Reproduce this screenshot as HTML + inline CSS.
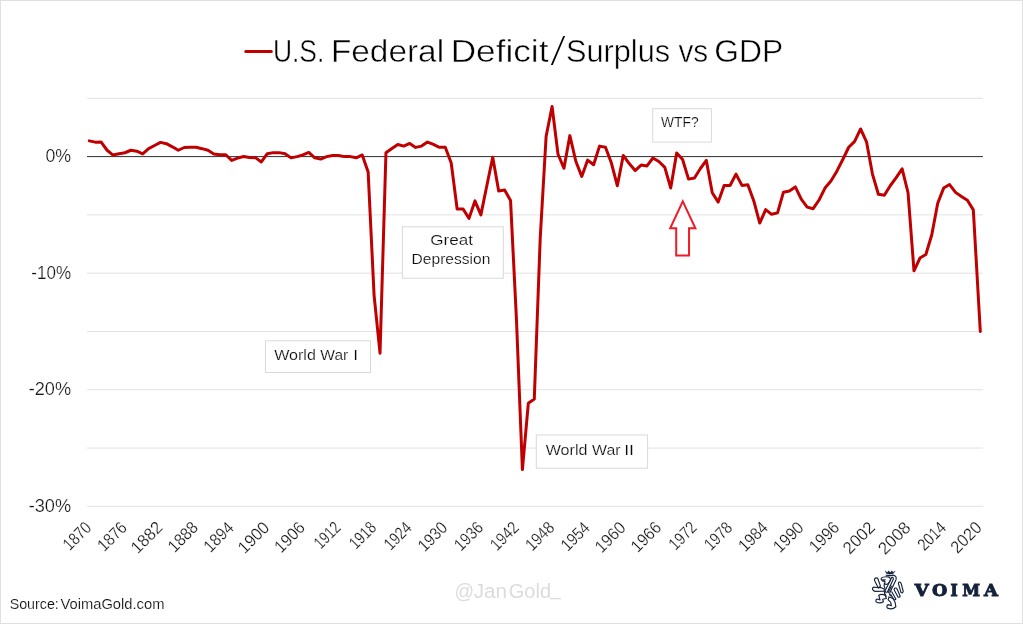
<!DOCTYPE html>
<html lang="en">
<head>
<meta charset="utf-8">
<title>U.S. Federal Deficit/Surplus vs GDP</title>
<style>
html,body{margin:0;padding:0;background:#fff;}
#chart{position:relative;width:1023px;height:624px;box-sizing:border-box;border:1px solid #e0e0e0;background:#fff;overflow:hidden;}
svg{position:absolute;left:-1px;top:-1px;}
text{font-family:"Liberation Sans",sans-serif;fill:#262626;}
.lab{fill:#151515;stroke:#fff;stroke-width:0.26;}
.title{fill:#000;stroke:#fff;stroke-width:0.32;}
.ann{fill:#0d0d0d;stroke:#fff;stroke-width:0.26;}
.src{fill:#0d0d0d;stroke:#fff;stroke-width:0.24;}
.handle{fill:#dcdcdc;}
.brand{font-family:"DejaVu Serif","Liberation Serif",serif;font-weight:bold;fill:#14213a;stroke:#14213a;stroke-width:1.1;}
.box{fill:#fff;stroke:#d9d9d9;stroke-width:1;}
</style>
</head>
<body>
<div id="chart">
<svg width="1023" height="624" viewBox="0 0 1023 624">
<!-- gridlines -->
<line x1="87.0" y1="506.34" x2="982.9" y2="506.34" stroke="#e2e2e2" stroke-width="1"/>
<line x1="87.0" y1="448.05" x2="982.9" y2="448.05" stroke="#e2e2e2" stroke-width="1"/>
<line x1="87.0" y1="389.76" x2="982.9" y2="389.76" stroke="#e2e2e2" stroke-width="1"/>
<line x1="87.0" y1="331.47" x2="982.9" y2="331.47" stroke="#e2e2e2" stroke-width="1"/>
<line x1="87.0" y1="273.18" x2="982.9" y2="273.18" stroke="#e2e2e2" stroke-width="1"/>
<line x1="87.0" y1="214.89" x2="982.9" y2="214.89" stroke="#e2e2e2" stroke-width="1"/>
<line x1="87.0" y1="98.31" x2="982.9" y2="98.31" stroke="#e2e2e2" stroke-width="1"/>
<line x1="87.0" y1="156.60" x2="982.9" y2="156.60" stroke="#2e2e2e" stroke-width="1"/>
<!-- annotation boxes -->
<rect class="box" x="265.5" y="340.8" width="105" height="31.7"/>
<text class="ann" font-size="20" transform="translate(0,360.40) scale(0.7945,0.7055)" ><tspan x="345.13" textLength="52.48" lengthAdjust="spacingAndGlyphs">World</tspan> <tspan x="403.16" textLength="35.15" lengthAdjust="spacingAndGlyphs">War</tspan> <tspan x="444.54" textLength="6.05" lengthAdjust="spacingAndGlyphs">I</tspan></text>
<rect class="box" x="402.4" y="226.8" width="100.9" height="51.4"/>
<text class="ann" font-size="20" transform="translate(0,244.90) scale(0.8557,0.7055)" ><tspan x="502.81" textLength="50.02" lengthAdjust="spacingAndGlyphs">Great</tspan></text>
<text class="ann" font-size="20" transform="translate(0,264.00) scale(0.7790,0.6982)" ><tspan x="528.37" textLength="101.16" lengthAdjust="spacingAndGlyphs">Depression</tspan></text>
<rect class="box" x="536.3" y="435" width="111.3" height="33.2"/>
<text class="ann" font-size="20" transform="translate(0,454.90) scale(0.8062,0.6982)" ><tspan x="676.90" textLength="51.72" lengthAdjust="spacingAndGlyphs">World</tspan> <tspan x="734.45" textLength="35.27" lengthAdjust="spacingAndGlyphs">War</tspan> <tspan x="774.18" textLength="12.30" lengthAdjust="spacingAndGlyphs">II</tspan></text>
<rect class="box" x="652.7" y="108.7" width="58.7" height="33.4"/>
<text class="ann" font-size="20" transform="translate(0,126.95) scale(0.6894,0.7782)" ><tspan x="958.97" textLength="54.44" lengthAdjust="spacingAndGlyphs">WTF?</tspan></text>
<!-- arrow -->
<path d="M682.8 201.4 L695.4 228.2 L689.05 228.2 L689.05 255.6 L676.2 255.6 L676.2 228.2 L670.2 228.2 Z" fill="#fff" stroke="#ee1c25" stroke-width="2" stroke-linejoin="miter"/>
<!-- data line -->
<polyline points="89.30,140.86 95.23,142.14 101.17,142.03 107.10,150.25 113.03,155.08 118.97,153.80 124.90,152.75 130.83,150.25 136.76,151.24 142.70,153.92 148.63,148.67 154.56,145.52 160.50,142.38 166.43,143.66 172.36,146.81 178.30,150.25 184.23,147.51 190.16,147.27 196.09,147.27 202.03,148.67 207.96,150.25 213.89,153.92 219.83,154.73 225.76,154.73 231.69,160.45 237.62,158.12 243.56,156.48 249.49,157.53 255.42,157.65 261.36,161.96 267.29,153.69 273.22,152.64 279.16,152.64 285.09,153.69 291.02,157.88 296.95,156.60 302.89,154.97 308.82,152.40 314.75,157.77 320.69,159.05 326.62,156.60 332.55,155.43 338.49,155.43 344.42,156.60 350.35,156.60 356.29,157.77 362.22,154.97 368.15,172.11 374.08,295.33 380.02,353.15 385.95,152.75 391.88,148.44 397.82,144.48 403.75,146.11 409.68,143.43 415.62,147.39 421.55,146.11 427.48,142.03 433.41,144.48 439.35,147.27 445.28,147.27 451.21,163.01 457.15,209.06 463.08,209.06 469.01,218.39 474.94,200.90 480.88,214.89 486.81,185.75 492.74,157.30 498.68,190.99 504.61,189.94 510.54,200.43 516.48,319.81 522.41,469.62 528.34,403.17 534.27,399.09 540.21,238.21 546.14,136.20 552.07,106.47 558.01,154.27 563.94,168.26 569.87,135.62 575.81,161.26 581.74,176.42 587.67,160.10 593.61,164.76 599.54,146.11 605.47,147.27 611.40,163.01 617.34,185.75 623.27,155.43 629.20,163.59 635.14,170.59 641.07,165.11 647.00,165.93 652.93,158.00 658.87,161.50 664.80,167.33 670.73,188.08 676.67,153.10 682.60,159.51 688.53,179.10 694.47,177.93 700.40,168.49 706.33,160.45 712.26,192.74 718.20,202.07 724.13,185.51 730.06,185.51 736.00,174.09 741.93,185.40 747.86,184.81 753.80,200.90 759.73,223.05 765.66,209.64 771.59,214.31 777.53,212.91 783.46,192.16 789.39,190.99 795.33,186.91 801.26,199.15 807.19,207.08 813.13,208.71 819.06,199.97 824.99,188.08 830.92,181.08 836.86,171.17 842.79,159.51 848.72,147.27 854.66,141.44 860.59,128.97 866.52,141.79 872.46,174.09 878.39,194.26 884.32,195.30 890.25,185.75 896.19,177.58 902.12,168.84 908.05,192.74 913.99,270.85 919.92,258.02 925.85,254.53 931.79,234.71 937.72,203.23 943.65,188.08 949.58,184.58 955.52,192.39 961.45,196.59 967.38,200.32 973.32,209.88 980.30,331.47" fill="none" stroke="#c00000" stroke-width="3" stroke-linejoin="round" stroke-linecap="round"/>
<!-- title with legend key -->
<line x1="245.8" y1="51.6" x2="271.3" y2="51.6" stroke="#c00000" stroke-width="3" stroke-linecap="round"/>
<text class="title" font-size="20" transform="translate(0,61.70) scale(1.6094,1.6000)" ><tspan x="169.59" textLength="31.95" lengthAdjust="spacingAndGlyphs">U.S.</tspan> <tspan x="205.63" textLength="70.29" lengthAdjust="spacingAndGlyphs">Federal</tspan> <tspan x="280.03" textLength="60.77" lengthAdjust="spacingAndGlyphs">Deficit</tspan><tspan x="340.99" dy="2.81" font-size="26.80" stroke-width="1.25" textLength="11.45" lengthAdjust="spacingAndGlyphs">/</tspan><tspan x="351.69" dy="-2.81" textLength="64.67" lengthAdjust="spacingAndGlyphs">Surplus</tspan> <tspan x="421.55" textLength="18.45" lengthAdjust="spacingAndGlyphs">vs</tspan> <tspan x="443.76" textLength="42.84" lengthAdjust="spacingAndGlyphs">GDP</tspan></text>
<!-- axis labels -->
<text class="lab" font-size="20" transform="translate(0,162.00) scale(0.8885,0.9032)" ><tspan x="51.09" textLength="28.91" lengthAdjust="spacingAndGlyphs">0%</tspan></text>
<text class="lab" font-size="20" transform="translate(0,278.58) scale(0.8502,0.9032)" ><tspan x="36.86" textLength="46.69" lengthAdjust="spacingAndGlyphs">-10%</tspan></text>
<text class="lab" font-size="20" transform="translate(0,395.16) scale(0.9079,0.9032)" ><tspan x="31.59" textLength="46.69" lengthAdjust="spacingAndGlyphs">-20%</tspan></text>
<text class="lab" font-size="20" transform="translate(0,511.74) scale(0.9079,0.9032)" ><tspan x="31.59" textLength="46.69" lengthAdjust="spacingAndGlyphs">-30%</tspan></text>
<text class="lab" font-size="20" transform="translate(91.90,529.2) rotate(-45) scale(0.7156,0.8602)" x="-43.70" y="0">1870</text>
<text class="lab" font-size="20" transform="translate(127.52,529.2) rotate(-45) scale(0.7514,0.8602)" x="-43.60" y="0">1876</text>
<text class="lab" font-size="20" transform="translate(163.14,529.2) rotate(-45) scale(0.8226,0.8602)" x="-43.45" y="0">1882</text>
<text class="lab" font-size="20" transform="translate(198.76,529.2) rotate(-45) scale(0.7770,0.8602)" x="-43.60" y="0">1888</text>
<text class="lab" font-size="20" transform="translate(234.38,529.2) rotate(-45) scale(0.7715,0.8602)" x="-43.90" y="0">1894</text>
<text class="lab" font-size="20" transform="translate(270.00,529.2) rotate(-45) scale(0.8177,0.8602)" x="-43.70" y="0">1900</text>
<text class="lab" font-size="20" transform="translate(305.62,529.2) rotate(-45) scale(0.7941,0.8602)" x="-43.60" y="0">1906</text>
<text class="lab" font-size="20" transform="translate(341.24,529.2) rotate(-45) scale(0.6686,0.8602)" x="-43.45" y="0">1912</text>
<text class="lab" font-size="20" transform="translate(376.86,529.2) rotate(-45) scale(0.6747,0.8602)" x="-43.60" y="0">1918</text>
<text class="lab" font-size="20" transform="translate(412.48,529.2) rotate(-45) scale(0.7038,0.8602)" x="-43.90" y="0">1924</text>
<text class="lab" font-size="20" transform="translate(448.10,529.2) rotate(-45) scale(0.7582,0.8602)" x="-43.70" y="0">1930</text>
<text class="lab" font-size="20" transform="translate(483.72,529.2) rotate(-45) scale(0.7344,0.8602)" x="-43.60" y="0">1936</text>
<text class="lab" font-size="20" transform="translate(519.34,529.2) rotate(-45) scale(0.7285,0.8602)" x="-43.45" y="0">1942</text>
<text class="lab" font-size="20" transform="translate(554.96,529.2) rotate(-45) scale(0.7344,0.8602)" x="-43.60" y="0">1948</text>
<text class="lab" font-size="20" transform="translate(590.58,529.2) rotate(-45) scale(0.7377,0.8602)" x="-43.90" y="0">1954</text>
<text class="lab" font-size="20" transform="translate(626.20,529.2) rotate(-45) scale(0.7922,0.8602)" x="-43.70" y="0">1960</text>
<text class="lab" font-size="20" transform="translate(661.82,529.2) rotate(-45) scale(0.7770,0.8602)" x="-43.60" y="0">1966</text>
<text class="lab" font-size="20" transform="translate(697.44,529.2) rotate(-45) scale(0.7113,0.8602)" x="-43.45" y="0">1972</text>
<text class="lab" font-size="20" transform="translate(733.06,529.2) rotate(-45) scale(0.7173,0.8602)" x="-43.60" y="0">1978</text>
<text class="lab" font-size="20" transform="translate(768.68,529.2) rotate(-45) scale(0.7546,0.8602)" x="-43.90" y="0">1984</text>
<text class="lab" font-size="20" transform="translate(804.30,529.2) rotate(-45) scale(0.7837,0.8602)" x="-43.70" y="0">1990</text>
<text class="lab" font-size="20" transform="translate(839.92,529.2) rotate(-45) scale(0.7770,0.8602)" x="-43.60" y="0">1996</text>
<text class="lab" font-size="20" transform="translate(875.54,529.2) rotate(-45) scale(0.8383,0.8602)" x="-43.45" y="0">2002</text>
<text class="lab" font-size="20" transform="translate(911.16,529.2) rotate(-45) scale(0.8522,0.8602)" x="-43.60" y="0">2008</text>
<text class="lab" font-size="20" transform="translate(946.78,529.2) rotate(-45) scale(0.7207,0.8602)" x="-43.90" y="0">2014</text>
<text class="lab" font-size="20" transform="translate(982.40,529.2) rotate(-45) scale(0.8081,0.8602)" x="-43.70" y="0">2020</text>
<!-- footer -->
<text class="src" font-size="20" transform="translate(0,608.60) scale(0.7293,0.7418)" ><tspan x="13.24" textLength="67.39" lengthAdjust="spacingAndGlyphs">Source:</tspan> <tspan x="82.85" textLength="142.67" lengthAdjust="spacingAndGlyphs">VoimaGold.com</tspan></text>
<text class="handle" font-size="20" transform="translate(0,597.50) scale(0.9980,1.0109)" ><tspan x="455.42" textLength="19.63" lengthAdjust="spacingAndGlyphs">@</tspan><tspan x="474.65" textLength="33.47" lengthAdjust="spacingAndGlyphs">Jan</tspan><tspan x="509.83" textLength="42.39" lengthAdjust="spacingAndGlyphs">Gold</tspan><tspan x="551.69" dy="-2.18" textLength="10.43" lengthAdjust="spacingAndGlyphs">_</tspan></text>
<!-- logo -->
<g id="lion" transform="translate(866,566) scale(0.07692)" fill="none" stroke="#16233c" stroke-width="15" stroke-linecap="round" stroke-linejoin="round">
<path d="M250 66 L268 102 Q310 112 352 102 L380 66 L352 84 L338 62 L315 84 L294 62 L278 84 Z" fill="#16233c" stroke-width="5"/>
<path d="M262 120 Q308 132 358 118"/>
<path d="M198 158 Q232 132 290 142 Q326 152 314 192 L286 232 Q262 246 238 232 L248 204 L212 194 Q192 176 198 158 Z"/>
<path d="M214 176 L252 176 L246 192 L220 190 Z" fill="#16233c" stroke-width="6"/>
<path d="M238 232 Q228 262 246 290"/>
<path d="M334 150 L248 322 Q254 350 278 338 L356 168 Q354 140 334 150 Z"/>
<path d="M362 122 Q402 132 390 178 L308 352 Q300 374 320 388"/>
<path d="M290 346 L330 262"/>
<path d="M425 212 Q448 202 458 230 L484 330 Q478 358 456 346 L426 246 Q416 226 425 212 Z"/>
<path d="M370 290 Q392 278 404 300 L444 390 Q438 414 416 402 L372 322 Q360 302 370 290 Z"/>
<path d="M334 335 L388 428 Q380 448 360 434 L322 372"/>
<path d="M113 166 Q130 148 152 160 L188 262 L160 286 L118 202 Q104 182 113 166 Z"/>
<path d="M84 288 Q100 268 128 280 L198 282 L238 300 L234 328 L120 330 Q82 324 84 288 Z"/>
<path d="M246 322 Q228 360 262 392"/>
<path d="M166 380 Q204 356 252 382 L264 422 L216 432 L226 464 Q182 494 134 468 Q118 440 146 430 L182 442 Q174 410 166 380 Z"/>
<path d="M298 402 L352 422 L378 470 L388 530 Q340 574 280 548 Q258 516 290 502 L330 516 L320 470 L288 440 Z"/>
</g>
<text class="brand" font-size="20" transform="translate(0,595.80) scale(0.8573,0.8699)" ><tspan x="1067.14" textLength="16.28" lengthAdjust="spacingAndGlyphs">V</tspan><tspan x="1087.27" textLength="17.86" lengthAdjust="spacingAndGlyphs">O</tspan><tspan x="1108.63" textLength="8.44" lengthAdjust="spacingAndGlyphs">I</tspan><tspan x="1122.34" textLength="20.81" lengthAdjust="spacingAndGlyphs">M</tspan><tspan x="1147.67" textLength="16.28" lengthAdjust="spacingAndGlyphs">A</tspan></text>
</svg>
</div>
</body>
</html>
